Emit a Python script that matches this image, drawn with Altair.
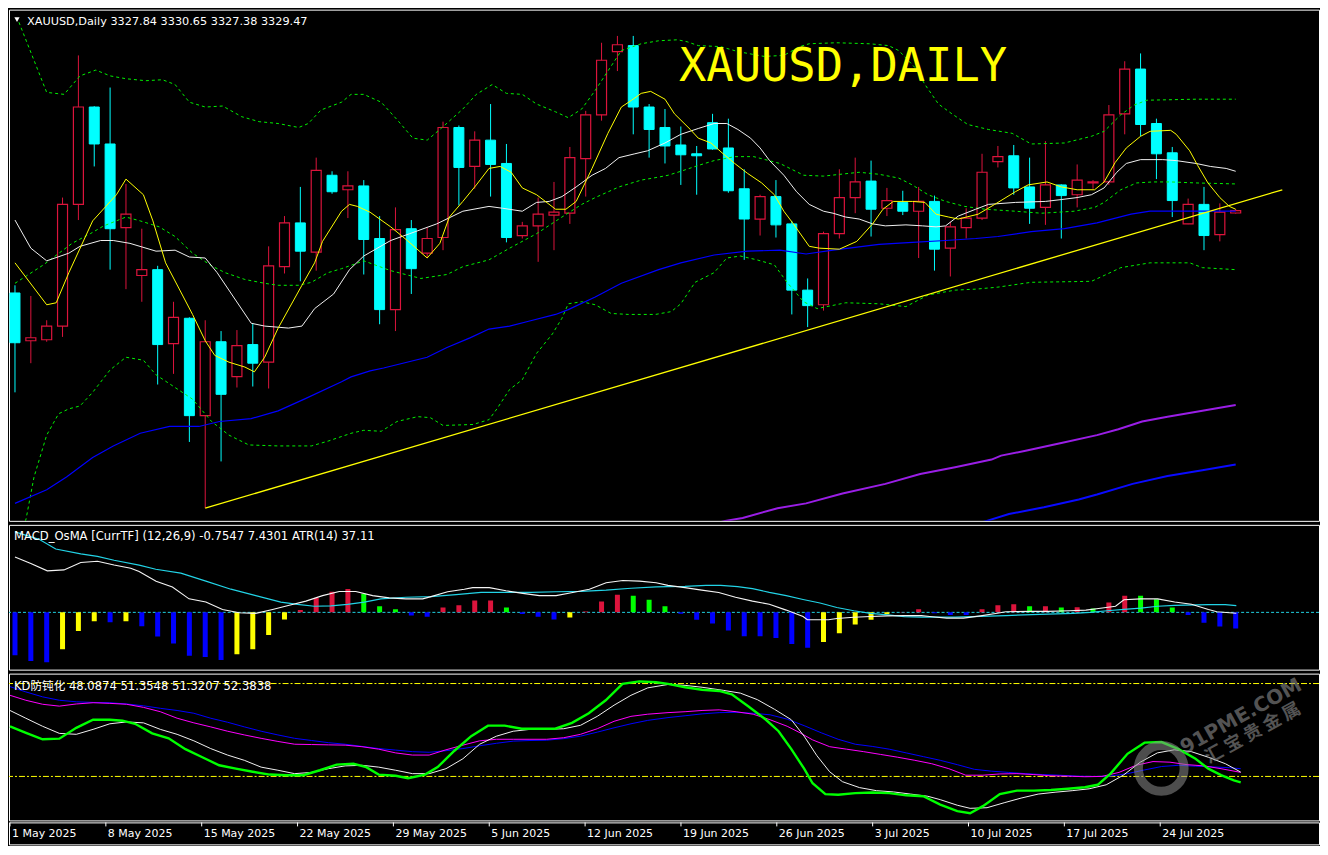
import altair as alt
import pandas as pd

# ---------------- price candles (bar index 0 = 1 May 2025) ----------------
OPEN = [3271.6, 3238.0, 3238.7, 3248.3, 3333.9, 3402.4, 3376.4, 3317.5, 3283.9, 3288.0,
        3235.9, 3253.8, 3185.3, 3237.3, 3212.7, 3235.3, 3222.9, 3290.1, 3320.9, 3300.3,
        3354.4, 3344.2, 3346.9, 3309.9, 3259.9, 3316.8, 3299.6, 3310.6, 3388.0, 3360.6,
        3379.1, 3362.7, 3312.0, 3318.8, 3326.4, 3327.7, 3366.1, 3396.9, 3441.4, 3445.6,
        3402.4, 3388.0, 3375.7, 3369.5, 3391.4, 3373.6, 3344.9, 3323.6, 3339.4, 3320.2,
        3273.6, 3263.3, 3313.3, 3338.7, 3350.3, 3331.2, 3335.3, 3329.1, 3336.0, 3303.1,
        3317.5, 3324.3, 3364.0, 3368.1, 3346.2, 3331.8, 3347.6, 3340.7, 3349.0, 3349.7,
        3397.6, 3429.1, 3390.8, 3370.2, 3320.2, 3333.9, 3312.7, 3327.84]
HIGH = [3277.0, 3269.5, 3252.4, 3338.7, 3438.7, 3403.0, 3416.1, 3348.3, 3316.8, 3290.7,
        3265.4, 3254.5, 3252.4, 3244.8, 3245.5, 3250.3, 3304.4, 3325.7, 3346.2, 3366.8,
        3357.2, 3357.2, 3351.0, 3325.7, 3331.8, 3322.9, 3317.5, 3392.1, 3389.4, 3385.3,
        3404.5, 3376.4, 3321.6, 3338.7, 3349.7, 3374.3, 3399.7, 3447.6, 3452.4, 3452.4,
        3404.5, 3401.0, 3388.7, 3375.0, 3397.6, 3394.2, 3358.6, 3340.7, 3351.0, 3322.3,
        3281.8, 3314.7, 3358.6, 3366.8, 3364.7, 3345.5, 3343.5, 3346.2, 3340.1, 3321.6,
        3331.2, 3369.5, 3375.0, 3375.7, 3366.8, 3378.4, 3348.0, 3362.0, 3351.0, 3403.8,
        3434.6, 3440.1, 3394.2, 3374.3, 3338.0, 3346.2, 3334.6, 3330.65]
LOW = [3201.7, 3222.2, 3237.3, 3240.7, 3322.9, 3360.6, 3288.0, 3274.3, 3265.4, 3207.2,
       3214.7, 3166.8, 3120.2, 3153.1, 3205.1, 3205.8, 3204.4, 3285.3, 3279.8, 3287.3,
       3341.4, 3324.3, 3284.6, 3249.6, 3244.8, 3270.9, 3296.2, 3301.7, 3333.2, 3344.9,
       3339.4, 3307.2, 3309.9, 3293.5, 3301.7, 3320.2, 3339.4, 3392.8, 3427.7, 3383.2,
       3366.8, 3362.7, 3347.6, 3340.7, 3372.3, 3342.1, 3294.9, 3312.0, 3310.6, 3256.5,
       3247.6, 3259.2, 3309.9, 3327.7, 3311.3, 3325.7, 3326.4, 3296.2, 3287.3, 3283.2,
       3309.9, 3322.9, 3359.9, 3340.7, 3320.2, 3319.5, 3309.9, 3331.8, 3344.9, 3347.6,
       3383.2, 3381.8, 3351.7, 3325.0, 3320.0, 3301.7, 3307.9, 3327.38]
CLOSE = [3236.6, 3240.1, 3248.3, 3333.9, 3402.4, 3376.4, 3316.8, 3327.0, 3288.0, 3235.3,
         3254.4, 3185.3, 3237.3, 3200.3, 3234.6, 3222.2, 3290.7, 3320.9, 3301.0, 3357.9,
         3342.8, 3346.9, 3309.2, 3259.9, 3316.1, 3288.7, 3309.9, 3388.0, 3359.9, 3379.1,
         3362.0, 3310.6, 3318.8, 3327.0, 3328.4, 3366.8, 3396.9, 3435.3, 3446.2, 3402.4,
         3386.6, 3375.0, 3368.8, 3368.1, 3372.9, 3343.5, 3323.6, 3339.4, 3319.5, 3273.6,
         3262.7, 3313.3, 3338.7, 3349.7, 3330.5, 3336.6, 3329.1, 3336.0, 3302.4, 3318.1,
         3324.3, 3356.5, 3367.5, 3345.5, 3331.2, 3347.6, 3340.1, 3351.0, 3349.7, 3396.9,
         3429.1, 3390.1, 3369.5, 3336.6, 3333.9, 3312.0, 3328.4, 3329.47]

# ---------------- main-chart indicator lines (bar position, value) ----------------
MA_YEL_I = [0, 2, 2.6, 3.4, 4.9, 6.4, 7, 8.1, 8.7, 9.5, 11.2, 12, 12.6, 13.5, 14.5, 15.1, 15.75, 16.6, 18.1, 18.9,
            19.4, 20.6, 21.1, 21.6, 22.4, 23.7, 24.75, 26, 26.8, 27.4, 28.25, 29.1, 29.9, 30.6, 31.3, 32, 32.9, 34.1,
            34.75, 35.4, 36.4, 37.4, 38.25, 38.9, 39.5, 40.1, 41, 41.6, 42.6, 43.1, 43.9, 44.6, 45.4, 46.2, 47.1, 47.9,
            48.5, 49.1, 50.1, 50.75, 52, 53.1, 54.1, 54.75, 55.4, 56.6, 57.4, 58.1, 58.9, 59.5, 60.75, 61.8, 63.1, 63.9,
            65.1, 66, 67, 68.1, 68.7, 69.4, 70.1, 71, 71.6, 72.9, 73.25, 74.1, 74.6, 75.25, 76, 76.6, 77]
MA_YEL_V = [3292.8, 3263.3, 3264.7, 3285.9, 3322.3, 3340.7, 3351.7, 3340.7, 3322.3, 3292.8, 3256.5, 3238.0, 3227.7,
            3222.9, 3219.5, 3216.1, 3226.4, 3246.9, 3277.0, 3292.8, 3307.9, 3329.1, 3333.9, 3332.5, 3328.4, 3318.1,
            3308.5, 3296.2, 3306.5, 3325.0, 3336.0, 3347.6, 3359.2, 3360.6, 3356.5, 3345.5, 3340.7, 3330.5, 3330.5,
            3336.0, 3359.2, 3383.9, 3402.4, 3407.2, 3412.0, 3413.4, 3407.9, 3397.6, 3386.6, 3380.5, 3377.1, 3370.2,
            3362.7, 3355.8, 3349.0, 3340.7, 3329.1, 3320.2, 3304.4, 3303.1, 3302.4, 3307.9, 3320.2, 3330.5, 3336.0,
            3336.0, 3335.3, 3327.0, 3325.0, 3323.6, 3327.0, 3333.9, 3342.8, 3347.6, 3349.7, 3346.2, 3344.2, 3344.2,
            3349.7, 3363.4, 3373.6, 3381.8, 3385.3, 3386.0, 3383.2, 3371.6, 3361.3, 3349.0, 3338.7, 3332.5, 3330.5]

MA_WHT_I = [0, 1, 2, 3.4, 4.1, 5.4, 6.2, 7.25, 8.9, 10.1, 11, 12, 12.75, 14.9, 15.75, 17.25, 18.1, 18.9, 20.1, 21.1,
            22, 23.7, 24.9, 26.6, 28.25, 29.9, 30.75, 32, 32.9, 33.7, 34.5, 35.4, 36.4, 37.25, 38.1, 39.1, 39.9, 41,
            42, 43.1, 44.1, 44.9, 45.6, 46.4, 47, 47.6, 48.5, 49.3, 50.1, 51, 51.6, 52.4, 53.25, 54.1, 54.9, 56.2,
            57.25, 58.1, 58.7, 59.5, 60.6, 61.4, 63.1, 65, 66, 67, 67.9, 68.7, 69.5, 70.1, 71, 72.4, 73.25, 74.5,
            75.4, 76.4, 77]
MA_WHT_V = [3322.9, 3303.1, 3294.2, 3299.6, 3304.4, 3308.5, 3308.5, 3306.5, 3301.0, 3301.7, 3296.9, 3296.2, 3285.9,
            3250.3, 3248.3, 3246.9, 3248.3, 3260.6, 3270.9, 3288.0, 3297.6, 3308.5, 3313.3, 3320.2, 3329.1, 3332.5,
            3331.2, 3329.1, 3335.3, 3336.0, 3339.4, 3346.2, 3354.4, 3359.2, 3366.8, 3369.5, 3371.6, 3377.1, 3383.2,
            3387.3, 3390.8, 3390.8, 3386.6, 3380.5, 3373.6, 3364.7, 3354.4, 3342.8, 3333.9, 3329.1, 3327.7, 3325.0,
            3323.6, 3320.2, 3318.8, 3319.5, 3318.8, 3318.1, 3318.8, 3325.7, 3330.5, 3333.9, 3335.3, 3336.0, 3337.3,
            3338.7, 3340.7, 3345.5, 3356.5, 3362.7, 3365.4, 3365.4, 3364.7, 3362.7, 3360.6, 3359.2, 3357.2]

BB_UP_I = [0.25, 2, 3.1, 4.1, 5.1, 6, 7, 8.25, 9.3, 10.1, 11, 12, 13.1, 14.3, 15.4, 16.6, 17.9, 18.5, 19.3, 20.6,
           21.2, 22, 23.1, 24.1, 25.1, 26, 26.8, 28.25, 29.1, 30.1, 31, 32, 32.9, 34.1, 34.9, 35.75, 36.6, 37.4,
           38.25, 39.5, 40.6, 41.8, 42.4, 43.1, 44.5, 45.6, 47.25, 48.5, 49.5, 50.1, 51.8, 53.9, 55.1, 55.75, 56.8,
           57.4, 58.25, 59.1, 60.1, 61.4, 62.9, 64.1, 66.2, 67.9, 68.7, 69.75, 70.6, 71.4, 74.5, 77]
BB_UP_V = [3462.0, 3412.7, 3411.3, 3424.3, 3428.4, 3424.3, 3422.3, 3420.9, 3421.6, 3418.2, 3405.8, 3402.4, 3403.1,
           3395.6, 3392.1, 3390.8, 3388.0, 3390.8, 3400.3, 3405.8, 3411.3, 3411.3, 3405.8, 3393.5, 3380.5, 3379.1,
           3386.6, 3401.0, 3411.3, 3418.2, 3412.0, 3411.3, 3404.5, 3399.0, 3394.9, 3401.0, 3414.1, 3427.7, 3442.1,
           3446.9, 3449.0, 3449.7, 3448.3, 3445.6, 3444.9, 3441.4, 3438.0, 3438.7, 3444.9, 3446.9, 3447.6, 3446.9,
           3445.6, 3442.1, 3429.8, 3418.2, 3404.5, 3397.6, 3390.1, 3386.6, 3383.9, 3376.4, 3377.1, 3381.8, 3385.3,
           3396.9, 3403.8, 3407.2, 3407.9, 3407.9]

BB_MID_I = [0, 1.8, 3.6, 4.75, 5.6, 7, 7.9, 9.1, 10.1, 11.2, 12.4, 13.25, 14.5, 15.75, 16.6, 17.9, 18.7, 19.75, 20.6,
            22, 23.7, 25.6, 27.25, 28.25, 29.9, 31.2, 32.9, 34.5, 35.75, 36.6, 38.1, 39.5, 40.6, 41.2, 42, 43.1, 44.1,
            45.4, 46.6, 48.25, 49.75, 51, 53.25, 54.5, 55.75, 56.6, 57.6, 58.7, 59.9, 61.2, 63.1, 64.75, 66.8, 68.1,
            68.7, 69.75, 70.75, 71.8, 72.9, 74.5, 77]
BB_MID_V = [3278.4, 3291.4, 3306.5, 3313.3, 3318.8, 3325.0, 3322.3, 3318.1, 3311.3, 3299.6, 3290.7, 3285.9, 3281.1,
            3278.4, 3277.0, 3277.0, 3279.1, 3285.9, 3288.7, 3294.2, 3287.3, 3281.8, 3284.6, 3290.1, 3294.9, 3303.1,
            3313.3, 3325.0, 3333.9, 3338.7, 3346.2, 3351.0, 3353.1, 3354.4, 3357.2, 3361.3, 3364.7, 3367.5, 3367.5,
            3362.7, 3354.4, 3353.8, 3356.5, 3355.1, 3352.4, 3347.6, 3340.7, 3336.0, 3332.5, 3330.5, 3329.1, 3327.7,
            3329.1, 3331.8, 3335.3, 3344.2, 3349.0, 3349.7, 3349.7, 3349.0, 3348.3]

BB_LO_I = [0.2, 0.7, 1.2, 2, 2.75, 3.4, 4.1, 4.9, 6, 7, 8.1, 8.9, 10.1, 11.2, 12.4, 13.5, 14.75, 16.6, 18.7, 19.75,
           21.2, 22, 23.1, 24.1, 25.4, 26.2, 27, 28.9, 29.9, 30.4, 31.2, 32, 32.9, 33.9, 34.5, 34.9, 35.75, 36.6,
           37.6, 38.7, 40.4, 41.4, 42, 42.9, 44.1, 44.9, 45.75, 46.8, 47.9, 48.7, 49.75, 50.6, 52.4, 54.5, 56.2,
           57.6, 59.3, 60.6, 62, 64.1, 67.9, 68.7, 69.75, 71.6, 74.1, 74.9, 77]
BB_LO_V = [3095.0, 3112.7, 3142.1, 3171.6, 3186.6, 3190.1, 3192.1, 3201.7, 3217.5, 3226.4, 3224.3, 3214.0, 3205.1,
           3196.9, 3181.2, 3171.6, 3164.7, 3164.0, 3164.0, 3167.4, 3172.9, 3175.0, 3174.3, 3181.2, 3184.6, 3183.9,
           3178.4, 3179.1, 3182.5, 3190.1, 3203.7, 3210.6, 3229.1, 3242.8, 3253.8, 3264.0, 3265.4, 3263.3, 3257.2,
           3256.5, 3256.5, 3258.5, 3264.0, 3279.1, 3285.9, 3296.2, 3297.6, 3294.9, 3291.4, 3279.1, 3265.4, 3260.6,
           3264.7, 3264.0, 3262.0, 3270.2, 3273.6, 3274.3, 3275.7, 3279.1, 3279.8, 3283.9, 3289.4, 3292.8, 3292.8,
           3289.4, 3288.0]

MA_BLUE_I = [0, 2, 3.25, 4.9, 6.2, 7.9, 9.75, 11.6, 12.9, 14.9, 16.6, 18.25, 20.6, 21.2, 22.4, 23.25, 26, 27.25,
             28.7, 29.9, 31.2, 32.4, 34.1, 34.9, 36.6, 38.25, 40.6, 42, 44.1, 46.2, 48.25, 49.9, 51.6, 54.5, 56.6,
             58.7, 60.6, 62, 64.1, 66.2, 68.25, 70.4, 71.6, 74.5, 77]
MA_BLUE_V = [3123.6, 3133.2, 3142.1, 3155.8, 3164.0, 3172.9, 3177.7, 3177.7, 3181.2, 3183.2, 3188.7, 3196.9, 3209.2,
             3212.6, 3216.8, 3218.8, 3226.4, 3233.2, 3240.0, 3246.2, 3248.3, 3251.7, 3256.5, 3259.9, 3268.8, 3278.4,
             3288.0, 3292.8, 3298.3, 3301.0, 3301.7, 3299.0, 3301.7, 3305.8, 3307.2, 3308.5, 3309.9, 3311.3, 3314.7,
             3316.8, 3320.9, 3327.0, 3329.1, 3329.1, 3329.1]

MA_PURPLE_I = [43.7, 44.8, 45.9, 48.1, 49.9, 52.2, 54.9, 57.1, 59.3, 61.6, 62.2, 63.75, 66, 68.25, 69.6, 71.1, 72.7, 74.9, 77]
MA_PURPLE_V = [3107.9, 3111.3, 3113.3, 3120.2, 3123.6, 3130.5, 3137.3, 3144.2, 3149.0, 3154.4, 3157.2, 3160.6,
               3166.1, 3171.6, 3175.7, 3181.2, 3184.6, 3188.7, 3192.8]

MA_BLUE2_I = [59.9, 61.3, 62.7, 64.9, 67.1, 68.25, 70.5, 72.7, 74.9, 77]
MA_BLUE2_V = [3106.5, 3111.3, 3116.1, 3120.9, 3126.3, 3129.8, 3137.3, 3142.8, 3146.9, 3151.0]

TREND_I = [12, 79.94]
TREND_V = [3120.2, 3344.2]

# ---------------- MACD_OsMA ----------------
HIST = [-13.3, -15.1, -15.5, -11.5, -5.8, -2.8, -3.1, -2.8, -4.3, -7.5,
        -9.7, -13.5, -13.9, -14.8, -13.0, -11.5, -7.0, -2.2, 0.7, 4.5,
        6.4, 7.3, 5.8, 1.9, 1.0, -1.0, -1.4, 1.5, 2.2, 3.7,
        3.7, 1.5, -0.5, -1.4, -2.2, -1.6, 0.3, 3.4, 5.5, 5.2,
        3.9, 1.9, -0.4, -2.3, -3.5, -5.6, -7.4, -7.4, -8.0, -9.8,
        -11.0, -9.2, -6.5, -3.8, -2.3, -0.6, 0.1, 1.0, -0.3, -0.8,
        -0.8, 1.0, 2.2, 2.5, 1.9, 1.9, 1.5, 1.6, 1.2, 3.1,
        5.2, 5.2, 4.1, 1.5, -0.8, -3.2, -4.4, -5.0]
HIST_COLOR = list("BBBYYYBYBB" "BBBBYYYYRR" "RRGGGBBRRR" "RGBBBYRRRG" "GGBBBBBBBB"
                  "BYYYYYRRBB" "BRRRGRGRGR" "RGGGBBBB")

MACD_I = [0, 1.0, 2.04, 3.09, 4.15, 5.2, 6.25, 7.3, 7.83, 8.9, 9.93, 10.98, 12.04, 13.09, 14.14, 15.19, 16.25, 17.3,
          18.35, 19.4, 20.45, 21.5, 22.56, 23.61, 24.66, 25.72, 26.24, 27.29, 28.34, 28.87, 29.92, 30.97, 32.03,
          33.08, 34.13, 35.18, 36.23, 37.29, 38.34, 39.39, 40.44, 41.19, 42.26, 43.32, 44.39, 45.45, 46.52, 47.58,
          48.65, 49.71, 49.98, 51.31, 51.84, 52.91, 53.97, 55.04, 56.1, 57.17, 57.7, 58.77, 59.83, 60.9, 61.96,
          62.5, 64.09, 65.16, 66.49, 67.55, 68.35, 69.42, 69.95, 71.02, 72.08, 73.15, 74.21, 75.28, 75.81, 76.61, 77.04]
MACD_V = [17.2, 15.2, 12.9, 13.2, 15.5, 15.9, 14.7, 13.7, 12.7, 9.7, 7.9, 4.2, 3.2, 0.9, -0.1, -0.3, 0.9, 2.2, 3.5,
          5.2, 6.5, 6.5, 5.2, 4.5, 4.2, 4.2, 4.9, 6.4, 7.2, 7.7, 7.7, 6.7, 5.9, 5.2, 5.2, 6.2, 7.2, 9.2, 9.9, 9.7,
          9.2, 8.4, 7.7, 6.9, 6.2, 4.7, 3.5, 2.5, 0.7, -1.3, -2.3, -2.3, -1.9, -1.5, -1.3, -1.1, -1.0, -1.0, -1.3,
          -1.8, -1.8, -1.1, -0.3, 0.2, 0.3, 0.3, 0.5, 0.7, 1.2, 1.9, 3.9, 4.2, 4.2, 3.2, 2.5, 0.9, 0.2, -0.1, -0.3]
SIGNAL_I = [0, 1.52, 2.57, 4.15, 5.2, 6.25, 7.83, 8.88, 10.46, 12.04, 13.62, 15.19, 16.77, 17.82, 18.88, 19.93,
            20.98, 22.03, 23.08, 24.66, 26.24, 27.82, 29.4, 30.97, 32.55, 34.13, 35.71, 37.29, 38.86, 40.44, 41.19,
            42.26, 43.59, 44.52, 45.58, 46.52, 47.58, 48.65, 49.71, 50.78, 51.84, 52.91, 53.97, 55.04, 56.1, 57.17,
            59.3, 60.36, 62.5, 64.63, 66.76, 67.82, 68.89, 69.95, 71.02, 72.08, 73.15, 75.28, 76.34, 77.04]
SIGNAL_V = [25.0, 22.7, 19.7, 18.2, 17.4, 16.2, 14.7, 13.4, 12.2, 9.7, 7.2, 5.2, 3.2, 2.5, 1.9, 2.0, 2.5, 3.2, 4.2,
            4.7, 4.9, 5.5, 6.2, 6.2, 6.2, 6.4, 6.5, 6.9, 7.5, 7.9, 8.0, 8.1, 8.4, 8.4, 8.0, 7.4, 6.2, 5.2, 4.0, 2.9,
            1.5, 0.5, -0.3, -0.8, -1.3, -1.5, -1.5, -1.3, -1.0, -0.6, -0.3, 0.0, 0.5, 0.9, 1.3, 1.9, 2.2, 2.4, 2.4, 2.1]

# ---------------- KD防钝化 ----------------
KD_GRID = [0, 0.99, 2.04, 3.09, 4.15, 5.2, 6.25, 7.3, 8.36, 9.41, 10.46, 11.51, 12.56, 13.62, 14.67, 15.72, 16.77,
           17.82, 18.88, 19.93, 20.98, 22.03, 23.08, 24.14, 25.19, 26.24, 27.29, 28.35, 29.4, 30.45, 31.5, 32.55,
           33.6, 34.66, 35.71, 36.76, 37.81, 38.87, 39.92]
KD_GREEN_I = [0, 1.0, 2.04, 3.09, 4.15, 5.2, 6.25, 7.04, 7.83, 8.9, 9.93, 10.98, 12.04, 13.09, 14.14, 15.19, 16.25,
              17.3, 18.35, 19.4, 20.45, 21.5, 22.3, 23.08, 24.14, 24.92, 25.98, 26.77, 27.82, 28.87, 29.92, 30.97,
              32.03, 33.08, 34.13, 35.18, 36.23, 37.29, 38.34, 39.39, 40.44, 41.19, 42.26, 43.32, 44.39, 45.18, 46.25,
              47.32, 48.11, 48.91, 49.71, 50.24, 51.04, 51.84, 52.91, 53.97, 55.04, 56.1, 57.17, 58.23, 59.3, 60.1,
              60.9, 61.96, 63.03, 64.09, 65.16, 66.22, 67.29, 68.09, 68.89, 69.95, 71.02, 72.08, 73.15, 74.21, 75.01,
              75.81, 76.61, 77.04]
KD_GREEN_V = [66.2, 64.1, 62.0, 62.2, 65.7, 68.3, 68.3, 68.0, 67.0, 63.9, 62.3, 58.8, 56.2, 53.6, 52.5, 51.5, 50.6,
              50.4, 50.4, 52.0, 53.8, 54.1, 53.0, 50.6, 50.2, 49.4, 50.6, 53.0, 58.3, 63.0, 66.4, 66.4, 65.4, 65.4,
              65.4, 67.3, 70.4, 74.6, 79.9, 80.7, 80.4, 79.9, 78.8, 78.0, 77.6, 76.5, 72.5, 68.3, 64.6, 58.8, 52.5,
              47.8, 44.3, 44.1, 44.6, 44.8, 44.6, 43.9, 43.6, 40.9, 38.8, 38.1, 40.4, 44.3, 45.4, 45.4, 45.6, 46.0,
              46.5, 47.3, 50.9, 57.3, 60.9, 61.1, 58.8, 55.7, 52.5, 50.4, 48.7, 48.1]
KD_WHITE_I = KD_GRID + [41.19, 42.26, 43.32, 44.65, 45.72, 46.78, 47.85, 48.91, 49.71, 50.51, 51.31, 52.11, 53.17,
                        54.24, 55.3, 56.37, 57.44, 58.23, 59.3, 60.1, 61.16, 62.23, 63.29, 64.36, 65.42, 66.49, 67.55,
                        68.62, 69.69, 70.75, 71.82, 72.88, 73.95, 75.01, 76.08, 77.04]
KD_WHITE_V = [71.3, 68.8, 66.2, 63.9, 63.6, 65.2, 67.0, 67.6, 67.3, 65.2, 63.6, 61.5, 59.0, 56.9, 55.2, 53.0, 52.0,
              50.9, 51.3, 52.5, 53.4, 53.6, 53.0, 52.0, 50.9, 50.9, 52.5, 55.7, 60.4, 63.0, 64.6, 65.2, 65.2, 65.4,
              66.5, 69.4, 73.0, 76.2, 78.6,
              79.7, 79.4, 78.8, 77.8, 76.9, 74.8, 71.7, 68.3, 63.0, 56.7, 51.5, 48.3, 46.4, 45.4, 45.0, 44.3, 43.6,
              42.5, 40.7, 39.7, 39.9, 41.5, 43.0, 44.3, 44.9, 45.4, 46.0, 47.3, 50.4, 54.6, 57.6, 58.6, 58.0, 56.2,
              54.1, 51.4]
KD_MAG_I = KD_GRID + [41.19, 42.26, 43.32, 44.39, 45.45, 46.52, 47.58, 48.65, 49.45, 50.24, 51.31, 52.37, 53.44,
                      54.5, 55.57, 56.64, 57.7, 58.77, 59.83, 60.9, 61.96, 63.03, 64.09, 65.16, 66.22, 67.29, 68.35,
                      69.42, 70.48, 71.55, 72.61, 73.68, 74.75, 75.81, 77.04]
KD_MAG_V = [76.2, 74.6, 73.3, 72.7, 73.4, 73.8, 73.6, 73.3, 72.3, 70.9, 68.8, 67.3, 66.0, 64.6, 63.4, 62.3, 61.3,
            60.4, 60.3, 60.2, 60.1, 59.6, 58.8, 57.6, 56.9, 56.9, 58.6, 60.1, 61.5, 62.0, 62.0, 62.0, 62.0, 62.5,
            63.6, 65.4, 67.8, 69.4, 70.1,
            70.6, 70.9, 71.3, 71.5, 70.9, 70.1, 68.3, 66.2, 64.1, 61.8, 59.6, 58.8, 58.0, 57.1, 56.2, 55.2, 54.1,
            52.5, 50.4, 50.4, 50.8, 50.9, 50.6, 50.2, 50.1, 49.9, 50.0, 51.3, 53.6, 54.8, 54.6, 53.8, 53.4, 52.5, 51.3]
KD_BLUE_I = KD_GRID + [41.19, 42.26, 43.32, 44.39, 45.45, 46.52, 47.58, 48.65, 49.71, 50.78, 51.84, 52.91, 53.97,
                       55.04, 56.1, 57.17, 58.23, 59.3, 60.36, 61.43, 62.5, 63.56, 64.63, 65.69, 66.76, 67.82, 68.89,
                       69.95, 71.02, 72.08, 73.15, 74.21, 75.28, 76.34, 77.04]
KD_BLUE_V = [79.0, 77.3, 75.7, 74.6, 74.1, 73.9, 73.8, 73.4, 72.8, 72.0, 71.3, 70.4, 68.8, 67.5, 66.0, 64.6, 63.4,
             62.3, 61.6, 60.9, 60.4, 59.7, 59.0, 58.5, 58.0, 57.8, 58.3, 59.0, 59.9, 60.7, 61.4, 61.6, 61.7, 62.2,
             63.0, 64.3, 65.7, 67.0, 68.1,
             69.0, 69.6, 70.2, 70.6, 70.7, 70.4, 69.9, 68.5, 66.4, 64.1, 62.0, 60.4, 59.7, 58.8, 57.6, 56.4, 55.2,
             53.8, 52.3, 51.7, 51.3, 50.9, 50.6, 50.4, 50.1, 50.0, 50.1, 50.9, 52.1, 53.2, 53.6, 53.3, 53.1, 52.8, 52.5]
KD_LEVELS = [80, 50]

# ---------------- texts ----------------
TICK_POS = [0, 6, 12, 18, 24, 30, 36, 42, 48, 54, 60, 66, 72]
TICK_LABELS = ['1 May 2025', '8 May 2025', '15 May 2025', '22 May 2025', '29 May 2025', '5 Jun 2025',
               '12 Jun 2025', '19 Jun 2025', '26 Jun 2025', '3 Jul 2025', '10 Jul 2025', '17 Jul 2025',
               '24 Jul 2025']
HEADER = 'XAUUSD,Daily  3327.84 3330.65 3327.38 3329.47'
BIG_TITLE = 'XAUUSD,DAILY'
MACD_LABEL = 'MACD_OsMA [CurrTF] (12,26,9) -0.7547 7.4301  ATR(14) 37.11'
KD_LABEL = 'KD防钝化 48.0874 51.3548 51.3207 52.3838'
WM_EN = '91PME.COM'
WM_CN = '汇  宝  贵  金  属'

# ---------------- styling ----------------
W = 1312
H_MAIN, H_MACD, H_KD, H_AX = 512, 145, 147, 22
XDOM = [-0.0625, 81.94]
DOM_MAIN = [3111.3, 3470.9]
DOM_MACD = [-17.8, 27.2]
DOM_KD = [35.8, 83.2]
RED = '#dc143c'
CYAN = '#00ffff'
GREEN = '#00f000'
FONT = 'DejaVu Sans, Noto Sans CJK SC'


def xenc():
    return alt.X('i:Q', scale=alt.Scale(domain=XDOM, nice=False, zero=False), axis=None)


def yscale(dom):
    return alt.Scale(domain=dom, nice=False, zero=False)


def line(xs, vs, color, dom, width=1.0, dash=None):
    df = pd.DataFrame(list(zip(xs, vs)), columns=['i', 'v'])
    kw = dict(color=color, strokeWidth=width, clip=True, strokeCap='butt')
    if dash:
        kw['strokeDash'] = dash
    return alt.Chart(df).mark_line(**kw).encode(x=xenc(), y=alt.Y('v:Q', scale=yscale(dom), axis=None))


def label(text, x, y, color='white', size=11.3, font=FONT, align='left', angle=0, opacity=1.0, weight='normal',
          baseline='alphabetic'):
    df = pd.DataFrame({'t': [text]})
    kw = dict(color=color, fontSize=size, font=font, align=align, baseline=baseline,
              fontWeight=weight, opacity=opacity, clip=True)
    if angle:
        kw['angle'] = angle
    return alt.Chart(df).mark_text(**kw).encode(text='t:N', x=alt.value(x), y=alt.value(y))


# ---------------- main panel ----------------
cdf = pd.DataFrame({'i': list(range(len(OPEN))), 'o': OPEN, 'h': HIGH, 'l': LOW, 'c': CLOSE})
cdf['dir'] = ['up' if c >= o else 'down' for o, c in zip(cdf.o, cdf.c)]
ys = yscale(DOM_MAIN)
dircol = alt.Color('dir:N', scale=alt.Scale(domain=['up', 'down'], range=[RED, CYAN]), legend=None)

wicks = alt.Chart(cdf).mark_rule(strokeWidth=1, clip=True).encode(
    x=xenc(), y=alt.Y('l:Q', scale=ys, axis=None), y2='h:Q', color=dircol)
body_up = alt.Chart(cdf).transform_filter("datum.dir == 'up'").mark_bar(
    size=10, fill='black', stroke=RED, strokeWidth=1.2, orient='vertical', clip=True).encode(
    x=xenc(), y=alt.Y('o:Q', scale=ys, axis=None), y2='c:Q')
body_dn = alt.Chart(cdf).transform_filter("datum.dir == 'down'").mark_bar(
    size=10, fill=CYAN, stroke=CYAN, strokeWidth=1, orient='vertical', clip=True).encode(
    x=xenc(), y=alt.Y('o:Q', scale=ys, axis=None), y2='c:Q')

tri = alt.Chart(pd.DataFrame({'t': ['']})).mark_point(
    shape='triangle-down', filled=True, color='white', size=28, opacity=1, clip=True).encode(
    x=alt.value(8), y=alt.value(10))

main = alt.layer(
    wicks, body_up, body_dn,
    line(BB_UP_I, BB_UP_V, GREEN, DOM_MAIN, 1, [3, 3]),
    line(BB_MID_I, BB_MID_V, GREEN, DOM_MAIN, 1, [3, 3]),
    line(BB_LO_I, BB_LO_V, GREEN, DOM_MAIN, 1, [3, 3]),
    line(MA_BLUE_I, MA_BLUE_V, '#0000ff', DOM_MAIN, 1.2),
    line(MA_PURPLE_I, MA_PURPLE_V, '#9a1ee6', DOM_MAIN, 2),
    line(MA_BLUE2_I, MA_BLUE2_V, '#0a0aff', DOM_MAIN, 2),
    line(TREND_I, TREND_V, '#ffff00', DOM_MAIN, 1.3),
    line(MA_WHT_I, MA_WHT_V, '#f0f0f0', DOM_MAIN, 1),
    line(MA_YEL_I, MA_YEL_V, '#ffff00', DOM_MAIN, 1),
    tri,
    label(HEADER, 18, 15),
    label(BIG_TITLE, 671, 71, color='#ffff00', size=45.5, font='DejaVu Sans Mono'),
).properties(width=W, height=H_MAIN)

# ---------------- MACD panel ----------------
hdf = pd.DataFrame({'i': list(range(len(HIST))), 'h': HIST, 'k': HIST_COLOR[:len(HIST)]})
hist = alt.Chart(hdf).mark_bar(size=5, orient='vertical', clip=True).encode(
    x=xenc(), y=alt.Y('h:Q', scale=yscale(DOM_MACD), axis=None), y2=alt.datum(0),
    color=alt.Color('k:N', scale=alt.Scale(domain=['B', 'Y', 'R', 'G'],
                                           range=['#0000ff', '#ffff00', RED, '#00ff00']), legend=None))
zero = alt.Chart(pd.DataFrame({'v': [0]})).mark_rule(color='#20d0e0', strokeDash=[3, 2], strokeWidth=1).encode(
    y=alt.Y('v:Q', scale=yscale(DOM_MACD), axis=None))

macd = alt.layer(
    zero, hist,
    line(SIGNAL_I, SIGNAL_V, '#22d3e6', DOM_MACD, 1.2),
    line(MACD_I, MACD_V, '#f4f4f4', DOM_MACD, 1.1),
    label(MACD_LABEL, 5, 15, size=11.6),
).properties(width=W, height=H_MACD)

# ---------------- KD panel ----------------
levels = alt.Chart(pd.DataFrame({'v': KD_LEVELS})).mark_rule(
    color='#ffff00', strokeDash=[6, 2, 2, 2], strokeWidth=1).encode(
    y=alt.Y('v:Q', scale=yscale(DOM_KD), axis=None))

ring = alt.Chart(pd.DataFrame({'t': ['']})).mark_point(
    shape='circle', filled=False, stroke='#8c8c8c', strokeWidth=9, size=2100, opacity=0.55, clip=True).encode(
    x=alt.value(1154), y=alt.value(95))

kd = alt.layer(
    levels,
    line(KD_BLUE_I, KD_BLUE_V, '#0000ff', DOM_KD, 1),
    line(KD_MAG_I, KD_MAG_V, '#ff00ff', DOM_KD, 1),
    line(KD_WHITE_I, KD_WHITE_V, '#f0f0f0', DOM_KD, 1),
    line(KD_GREEN_I, KD_GREEN_V, '#00ff00', DOM_KD, 2.4),
    label(KD_LABEL, 5, 16, size=11.6),
    ring,
    label(WM_EN, 1234, 43, color='#8c8c8c', size=20, align='center', angle=331, opacity=0.6, weight='bold',
          font='DejaVu Sans', baseline='middle'),
    label(WM_CN, 1246, 60, color='#8c8c8c', size=18, align='center', angle=331, opacity=0.6, weight='bold',
          font='Noto Sans CJK SC', baseline='middle'),
).properties(width=W, height=H_KD)

# ---------------- date labels strip ----------------
tdf = pd.DataFrame({'i': TICK_POS, 't': TICK_LABELS})
tick_marks = alt.Chart(tdf).mark_rule(color='white', strokeWidth=1).encode(
    x=xenc(), y=alt.value(0), y2=alt.value(4))
tick_text = alt.Chart(tdf).mark_text(
    align='left', baseline='alphabetic', dx=2, color='white', fontSize=11, font='DejaVu Sans', clip=True).encode(
    x=xenc(), y=alt.value(15), text='t:N')
strip = alt.layer(tick_marks, tick_text).properties(width=W, height=H_AX)

panels = alt.vconcat(main, macd, kd, spacing=2).resolve_scale(x='independent', y='independent',
                                                              color='independent')
chart = alt.vconcat(panels, strip, spacing=0).resolve_scale(x='independent', y='independent').properties(
    padding=0, background='black').configure_view(stroke='white', strokeWidth=1)

chart.save("out.html", embed_options={"renderer": "svg", "actions": False})
